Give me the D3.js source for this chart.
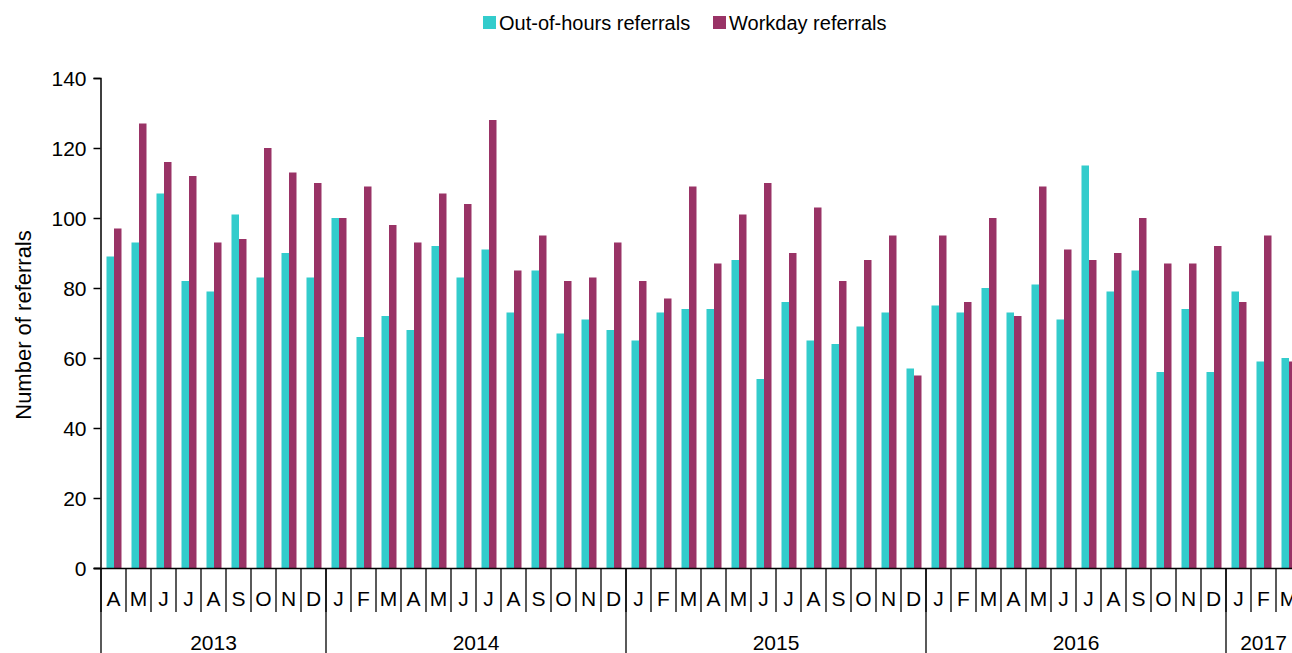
<!DOCTYPE html>
<html lang="en">

<head>
  <meta charset="utf-8">
  <title>Referrals per month</title>
  <script src="https://cdn.jsdelivr.net/npm/d3@7"></script>
</head>

<body style="margin:0">
  <div id="chart"></div>

  <style>
    #chart text {
      font-family: "Liberation Sans", Arial, sans-serif;
      fill: #000;
    }
  </style>

  <script type="text/javascript">
    "use strict"

    // month letters, April 2013 to March 2017
    const months = ["A", "M", "J", "J", "A", "S", "O", "N", "D",
      "J", "F", "M", "A", "M", "J", "J", "A", "S", "O", "N", "D",
      "J", "F", "M", "A", "M", "J", "J", "A", "S", "O", "N", "D",
      "J", "F", "M", "A", "M", "J", "J", "A", "S", "O", "N", "D",
      "J", "F", "M"];
    const yearLabels = ["2013", "2014", "2015", "2016", "2017"];
    const monthsPerYear = [9, 12, 12, 12, 3];

    const seriesNames = ["Out-of-hours referrals", "Workday referrals"];
    const seriesColors = ["#33cccc", "#993366"];

    const outOfHours = [89, 93, 107, 82, 79, 101, 83, 90, 83,
      100, 66, 72, 68, 92, 83, 91, 73, 85, 67, 71, 68,
      65, 73, 74, 74, 88, 54, 76, 65, 64, 69, 73, 57,
      75, 73, 80, 73, 81, 71, 115, 79, 85, 56, 74, 56,
      79, 59, 60];
    const workday = [97, 127, 116, 112, 93, 94, 120, 113, 110,
      100, 109, 98, 93, 107, 104, 128, 85, 95, 82, 83, 93,
      82, 77, 109, 87, 101, 110, 90, 103, 82, 88, 95, 55,
      95, 76, 100, 72, 109, 91, 88, 90, 100, 87, 87, 92,
      76, 95, 59];

    const yTicks = [0, 20, 40, 60, 80, 100, 120, 140];

    function desenha() {
      const largura = 1292, altura = 653;
      const esq = 101, dir = 1301, topo = 78, base = 568;

      const svg = d3.select('#chart')
        .append('svg')
          .attr('width', largura)
          .attr('height', altura);

      const dados = months.map((m, i) => ({ i: i, valores: [outOfHours[i], workday[i]] }));

      // escalas
      const x = d3.scaleBand()
        .domain(d3.range(months.length))
        .range([esq, dir])
        .padding(0);

      const x1 = d3.scaleBand()
        .domain([0, 1])
        .range([5.5, 20.5])
        .padding(0);

      const y = d3.scaleLinear()
        .domain([0, 140])
        .range([base, topo]);

      // barras
      const grupos = svg.append('g').selectAll('g')
        .data(dados)
        .enter()
          .append('g')
            .attr('transform', d => 'translate(' + x(d.i) + ',0)');

      grupos.selectAll('rect')
        .data(d => d.valores)
        .enter()
          .append('rect')
            .attr('x', (v, k) => x1(k))
            .attr('width', x1.bandwidth())
            .attr('y', v => y(v))
            .attr('height', v => y(0) - y(v))
            .attr('fill', (v, k) => seriesColors[k]);

      // eixo y
      const eixoY = svg.append('g')
        .attr('transform', 'translate(' + (esq - 0.5) + ',0)')
        .call(d3.axisLeft(y).tickValues(yTicks).tickSize(7).tickPadding(7).tickSizeOuter(7));
      eixoY.select('.domain').attr('stroke', '#000').attr('stroke-width', 1.5);
      eixoY.selectAll('.tick line').attr('stroke', '#000').attr('stroke-width', 1.5);
      eixoY.selectAll('.tick text')
        .style('font-size', '21px')
        .attr('dy', '0.36em');

      // eixo x: linha base
      svg.append('line')
        .attr('x1', esq - 7).attr('x2', largura)
        .attr('y1', base + 0.5).attr('y2', base + 0.5)
        .attr('stroke', '#000').attr('stroke-width', 1.5);

      // separadores dos meses
      svg.append('g').selectAll('line')
        .data(d3.range(months.length + 1))
        .enter()
          .append('line')
            .attr('x1', i => i < months.length ? x(i) : dir)
            .attr('x2', i => i < months.length ? x(i) : dir)
            .attr('y1', base)
            .attr('y2', base + 44)
            .attr('stroke', '#000')
            .attr('stroke-width', 1.3);

      // letras dos meses
      svg.append('g').selectAll('text')
        .data(months)
        .enter()
          .append('text')
            .attr('x', (m, i) => x(i) + x.bandwidth() / 2)
            .attr('y', 606)
            .attr('text-anchor', 'middle')
            .style('font-size', '21px')
            .text(m => m);

      // anos
      const inicios = [];
      let acum = 0;
      monthsPerYear.forEach(n => { inicios.push(acum); acum += n; });

      svg.append('g').selectAll('line')
        .data(inicios)
        .enter()
          .append('line')
            .attr('x1', s => x(s))
            .attr('x2', s => x(s))
            .attr('y1', base)
            .attr('y2', altura)
            .attr('stroke', '#000')
            .attr('stroke-width', 1.3);

      svg.append('g').selectAll('text')
        .data(yearLabels)
        .enter()
          .append('text')
            .attr('x', (a, k) => {
              const a0 = x(inicios[k]);
              const a1 = x(inicios[k] + monthsPerYear[k] - 1) + x.bandwidth();
              return (a0 + a1) / 2;
            })
            .attr('y', 650)
            .attr('text-anchor', 'middle')
            .style('font-size', '21px')
            .text(a => a);

      // titulo do eixo y
      svg.append('text')
        .attr('transform', 'translate(31,' + 325 + ') rotate(-90)')
        .attr('text-anchor', 'middle')
        .style('font-size', '22px')
        .text('Number of referrals');

      // legenda
      const legendaX = [483, 713];
      const legenda = svg.append('g').selectAll('g')
        .data(seriesNames)
        .enter()
          .append('g')
            .attr('transform', (s, k) => 'translate(' + legendaX[k] + ',16)');

      legenda.append('rect')
        .attr('width', 13)
        .attr('height', 13)
        .attr('fill', (s, k) => seriesColors[k]);

      legenda.append('text')
        .attr('x', 16)
        .attr('y', 14)
        .style('font-size', '20px')
        .text(s => s);
    }

    desenha();
  </script>
</body>

</html>
